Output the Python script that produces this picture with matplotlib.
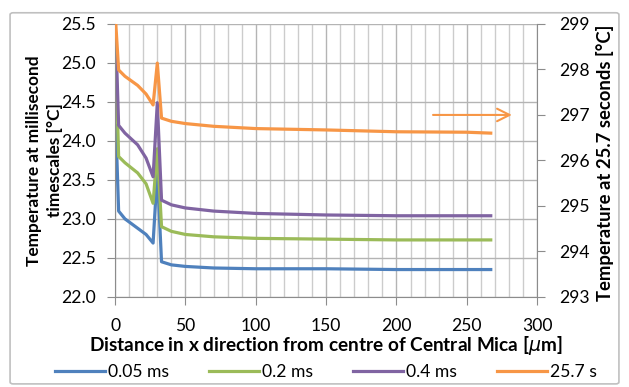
import matplotlib.pyplot as plt
from matplotlib.patches import FancyBboxPatch
from matplotlib.ticker import MultipleLocator

plt.rcParams['font.family'] = ['Lato', 'DejaVu Sans']

# distance from centre of central mica [um]
x = [0.5, 2.5, 7, 16, 22, 27, 30, 33, 40, 50, 70, 100, 150, 200, 250, 267]

# millisecond timescale temperatures (left axis)
t_005 = [24.2, 23.1, 23.0, 22.88, 22.8, 22.69, 23.6, 22.45, 22.41, 22.39, 22.37, 22.36, 22.36, 22.35, 22.35, 22.35]
t_02 = [25.1, 23.8, 23.72, 23.59, 23.45, 23.2, 23.9, 22.9, 22.84, 22.8, 22.77, 22.75, 22.74, 22.73, 22.73, 22.73]
t_04 = [25.35, 24.2, 24.1, 23.95, 23.78, 23.54, 24.49, 23.24, 23.18, 23.14, 23.1, 23.07, 23.05, 23.04, 23.04, 23.04]

# 25.7 s temperatures (right axis)
t_257 = [299.0, 297.99, 297.85, 297.65, 297.46, 297.22, 298.14, 296.93, 296.86, 296.81,
         296.75, 296.70, 296.67, 296.63, 296.62, 296.60]

c_blue = '#4F81BD'
c_green = '#9BBB59'
c_purple = '#8064A2'
c_orange = '#F79646'
grid_c = '#b4b4b4'
axis_c = '#8c8c8c'

fig = plt.figure(figsize=(6.29, 3.87), dpi=100)
fig.patches.append(FancyBboxPatch((0.016, 0.008), 0.968, 0.959, boxstyle='round,pad=0,rounding_size=0.005',
                                  transform=fig.transFigure, fill=False, ec='#c0c0c0', lw=1.2))
ax = fig.add_axes([0.183, 0.233, 0.671, 0.705])
ax2 = ax.twinx()

lw = 2.3
l1, = ax.plot(x, t_005, color=c_blue, lw=lw, label='0.05 ms')
l2, = ax.plot(x, t_02, color=c_green, lw=lw, label='0.2 ms')
l3, = ax.plot(x, t_04, color=c_purple, lw=lw, label='0.4 ms')
l4, = ax2.plot(x, t_257, color=c_orange, lw=lw, label='25.7 s')

ax.set_xlim(0, 300)
ax.set_ylim(22.0, 25.5)
ax2.set_ylim(293, 299)

ax.xaxis.set_major_locator(MultipleLocator(50))
ax.xaxis.set_minor_locator(MultipleLocator(10))
ax.yaxis.set_major_locator(MultipleLocator(0.5))
ax.yaxis.set_major_formatter(plt.FormatStrFormatter('%.1f'))
ax2.yaxis.set_major_locator(MultipleLocator(1))

ax.grid(which='major', color=grid_c, lw=1.0)
ax.grid(which='minor', axis='x', color='#cccccc', lw=1.0)
ax.set_axisbelow(True)

for a in (ax, ax2):
    for s in a.spines.values():
        s.set_color(axis_c)
    a.spines['top'].set_visible(False)
ax.spines['right'].set_visible(False)
ax2.spines['left'].set_visible(False)
ax2.spines['bottom'].set_visible(False)

ax.tick_params(axis='both', which='major', direction='out', length=6, color=axis_c, labelsize=12.6, pad=8)
ax.tick_params(axis='x', which='minor', length=0)
ax.tick_params(axis='x', pad=9)
ax2.tick_params(axis='y', direction='out', length=6, color=axis_c, labelsize=12.6, pad=10)

ax.set_ylabel('Temperature at millisecond\ntimescales [°C]', fontsize=12.4, fontweight='bold',
              linespacing=1.4)
ax.yaxis.set_label_coords(-0.124, 0.5)
ax2.set_ylabel('Temperature at 25.7 seconds [°C]', fontsize=13.3, fontweight='bold')
ax2.yaxis.set_label_coords(1.14, 0.49)
ax.set_xlabel('Distance in x direction from centre of Central Mica [$\\mu$m]', fontsize=13.7,
              fontweight='bold', labelpad=0)

ax2.annotate('', xy=(284, 297), xytext=(224, 297),
             arrowprops=dict(arrowstyle='->,head_length=0.9,head_width=0.45', color=c_orange, lw=1.5))

fig.legend(handles=[l1, l2, l3, l4], loc='center', bbox_to_anchor=(0.518, 0.039), ncol=4,
           frameon=False, fontsize=12.6, handlelength=2.85, handletextpad=0.17, columnspacing=2.3,
           borderpad=0)

fig.savefig('out.png', dpi=100)
